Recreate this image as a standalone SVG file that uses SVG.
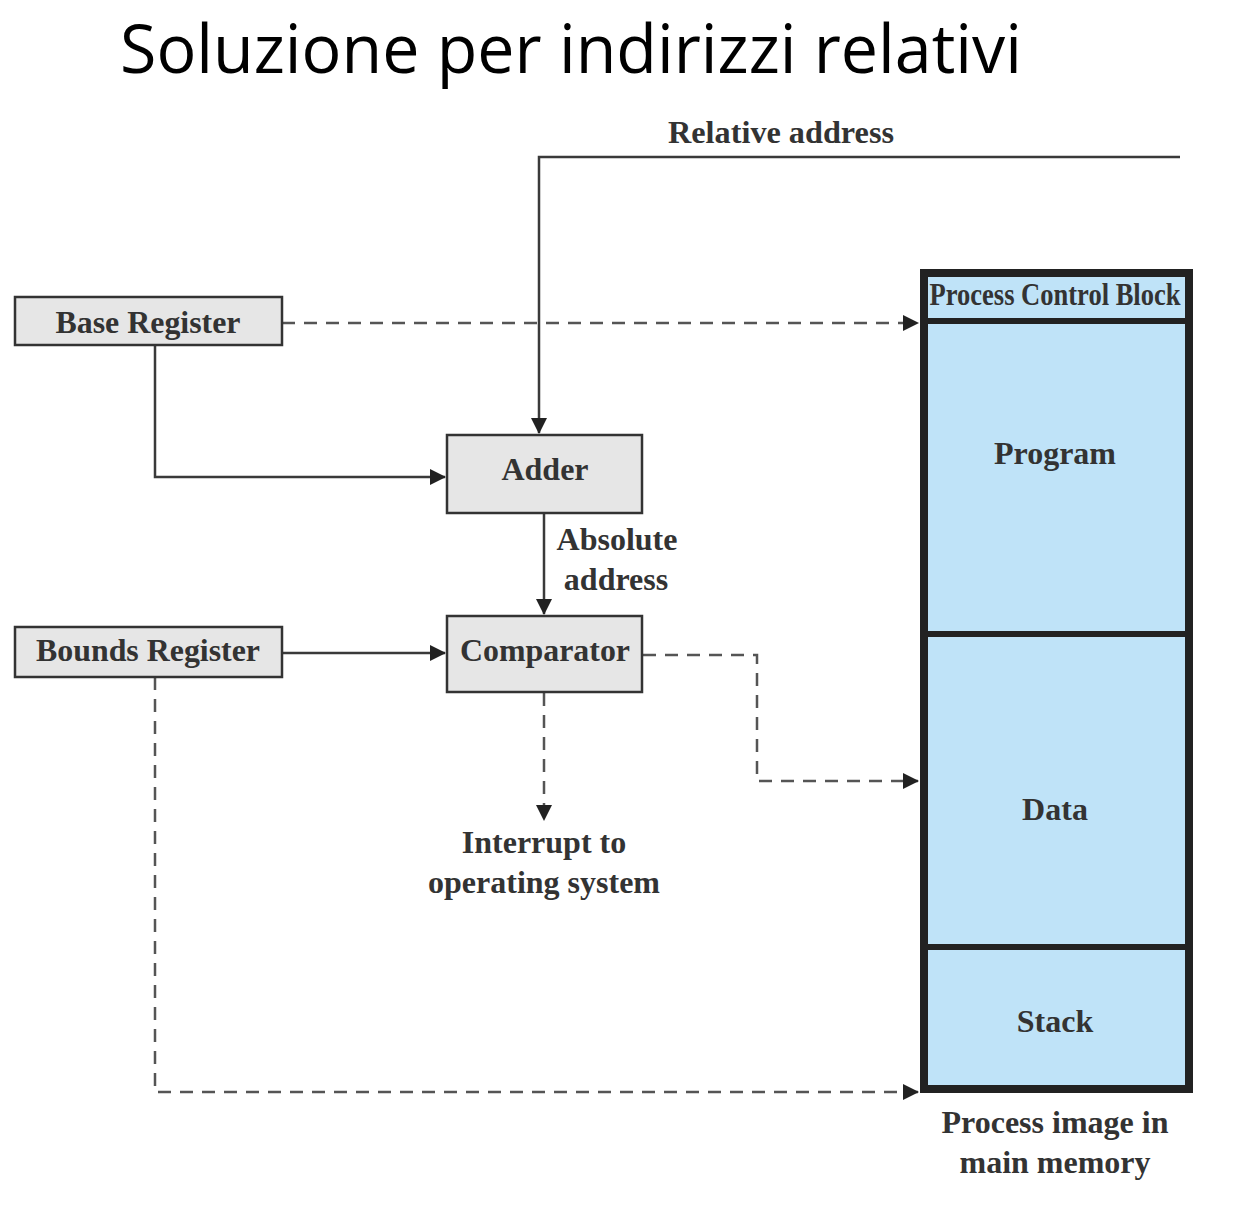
<svg xmlns="http://www.w3.org/2000/svg" width="1236" height="1206" viewBox="0 0 1236 1206">
<defs>
<marker id="arr" markerUnits="userSpaceOnUse" markerWidth="16" markerHeight="16" viewBox="0 0 16 16" refX="15" refY="8" orient="auto">
<path d="M0,0 L16,8 L0,16 Z" fill="#222"/>
</marker>
<style>
.lbl{font-family:"Liberation Serif","Times New Roman",serif;font-weight:bold;font-size:32px;fill:#333;text-anchor:middle}
.box{fill:#e6e6e6;stroke:#333;stroke-width:2.5}
.ln{fill:none;stroke:#3a3a3a;stroke-width:2.5}
.dash{fill:none;stroke:#555;stroke-width:2.5;stroke-dasharray:13 9}
.mem{fill:#bfe3f8;stroke:#222;stroke-width:8}
.div{stroke:#222;stroke-width:6}
</style>
</defs>
<rect width="1236" height="1206" fill="#fff"/>
<text x="120" y="73" font-family="'Open Sans','DejaVu Sans',sans-serif" font-size="68" fill="#000" textLength="902" lengthAdjust="spacingAndGlyphs">Soluzione per indirizzi relativi</text>

<g id="connectors">
<path class="ln" d="M1180,157 L539,157 L539,433" marker-end="url(#arr)"/>
<path class="ln" d="M155,345 L155,477 L445,477" marker-end="url(#arr)"/>
<path class="ln" d="M544,513 L544,614" marker-end="url(#arr)"/>
<path class="ln" d="M282,653 L445,653" marker-end="url(#arr)"/>
<path class="dash" d="M282,323 L918,323" marker-end="url(#arr)"/>
<path class="dash" d="M643,655 L757,655 L757,781 L918,781" marker-end="url(#arr)"/>
<path class="dash" d="M544,693 L544,820" marker-end="url(#arr)"/>
<path class="dash" d="M155,677 L155,1092 L918,1092" marker-end="url(#arr)"/>
<text class="lbl" x="781" y="143" textLength="226" lengthAdjust="spacingAndGlyphs">Relative address</text>
<text class="lbl" x="617" y="550">Absolute</text>
<text class="lbl" x="616" y="590">address</text>
</g>

<g id="base-register">
<rect class="box" x="15" y="297" width="267" height="48"/>
<text class="lbl" x="148" y="333" textLength="185" lengthAdjust="spacingAndGlyphs">Base Register</text>
</g>
<g id="adder">
<rect class="box" x="447" y="435" width="195" height="78"/>
<text class="lbl" x="545" y="480">Adder</text>
</g>
<g id="comparator">
<rect class="box" x="447" y="616" width="195" height="76"/>
<text class="lbl" x="545" y="661" textLength="170" lengthAdjust="spacingAndGlyphs">Comparator</text>
</g>
<g id="bounds-register">
<rect class="box" x="15" y="627" width="267" height="50"/>
<text class="lbl" x="148" y="661" textLength="224" lengthAdjust="spacingAndGlyphs">Bounds Register</text>
</g>
<g id="interrupt">
<text class="lbl" x="544" y="853">Interrupt to</text>
<text class="lbl" x="544" y="893">operating system</text>
</g>

<g id="process-image">
<rect class="mem" x="924" y="273" width="265" height="816"/>
<line class="div" x1="924" y1="321" x2="1189" y2="321"/>
<line class="div" x1="924" y1="634" x2="1189" y2="634"/>
<line class="div" x1="924" y1="947" x2="1189" y2="947"/>
<text class="lbl" x="1055" y="305" font-size="27" font-weight="normal" style="font-weight:600" textLength="251" lengthAdjust="spacingAndGlyphs">Process Control Block</text>
<text class="lbl" x="1055" y="464">Program</text>
<text class="lbl" x="1055" y="820">Data</text>
<text class="lbl" x="1055" y="1032">Stack</text>
<text class="lbl" x="1055" y="1133">Process image in</text>
<text class="lbl" x="1055" y="1173">main memory</text>
</g>
</svg>
